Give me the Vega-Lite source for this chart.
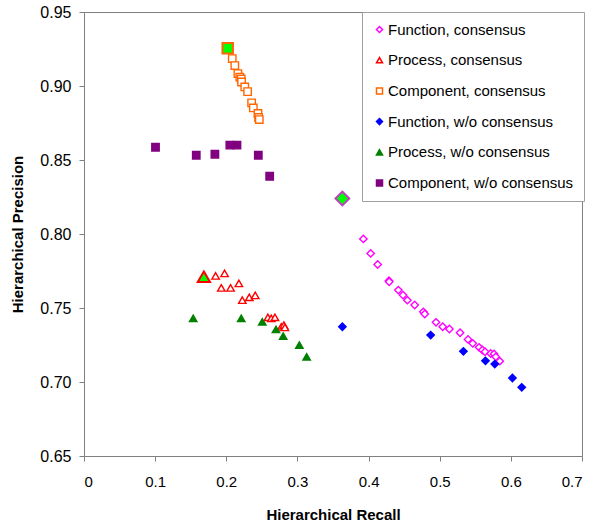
{
  "$schema": "https://vega.github.io/schema/vega-lite/v6.json",
  "width": 498,
  "height": 444,
  "autosize": {"type": "none"},
  "padding": {"left": 84, "top": 12, "right": 18, "bottom": 73},
  "background": "white",
  "config": {
    "view": {"stroke": "#808080", "strokeWidth": 1},
    "font": "Liberation Sans",
    "axis": {
      "grid": false,
      "domainColor": "#808080",
      "tickColor": "#808080",
      "tickSize": 5,
      "labelFont": "Liberation Sans",
      "labelFontSize": 15,
      "labelColor": "black",
      "titleFont": "Liberation Sans",
      "titleFontSize": 15,
      "titleFontWeight": "bold",
      "titleColor": "black"
    },
    "legend": {
      "orient": "none", "legendX": 278, "legendY": 0,
      "fillColor": "white", "strokeColor": "#A0A0A0",
      "padding": 10, "rowPadding": 14.7,
      "labelFont": "Liberation Sans", "labelFontSize": 15, "labelColor": "black",
      "labelOffset": 1, "symbolOffset": 0,
      "symbolSize": 36, "symbolStrokeWidth": 1.5, "labelLimit": 300
    }
  },
  "datasets": {
    "pts": [
      {"series": "Component, consensus", "recall": 0.2084, "precision": 0.9185},
      {"series": "Component, consensus", "recall": 0.2120, "precision": 0.9138},
      {"series": "Component, consensus", "recall": 0.2163, "precision": 0.9084},
      {"series": "Component, consensus", "recall": 0.2190, "precision": 0.9060},
      {"series": "Component, consensus", "recall": 0.2210, "precision": 0.9048},
      {"series": "Component, consensus", "recall": 0.2215, "precision": 0.9027},
      {"series": "Component, consensus", "recall": 0.2260, "precision": 0.8994},
      {"series": "Component, consensus", "recall": 0.2300, "precision": 0.8962},
      {"series": "Component, consensus", "recall": 0.2356, "precision": 0.8886},
      {"series": "Component, consensus", "recall": 0.2380, "precision": 0.8852},
      {"series": "Component, consensus", "recall": 0.2445, "precision": 0.8814},
      {"series": "Component, consensus", "recall": 0.2454, "precision": 0.8787},
      {"series": "Component, consensus", "recall": 0.2464, "precision": 0.8773},
      {"series": "Process, consensus", "recall": 0.1850, "precision": 0.7717},
      {"series": "Process, consensus", "recall": 0.1976, "precision": 0.7734},
      {"series": "Process, consensus", "recall": 0.1930, "precision": 0.7636},
      {"series": "Process, consensus", "recall": 0.2060, "precision": 0.7636},
      {"series": "Process, consensus", "recall": 0.2177, "precision": 0.7666},
      {"series": "Process, consensus", "recall": 0.2225, "precision": 0.7553},
      {"series": "Process, consensus", "recall": 0.2323, "precision": 0.7572},
      {"series": "Process, consensus", "recall": 0.2407, "precision": 0.7585},
      {"series": "Process, consensus", "recall": 0.2585, "precision": 0.7437},
      {"series": "Process, consensus", "recall": 0.2632, "precision": 0.7430},
      {"series": "Process, consensus", "recall": 0.2684, "precision": 0.7437},
      {"series": "Process, consensus", "recall": 0.2773, "precision": 0.7373},
      {"series": "Process, consensus", "recall": 0.2810, "precision": 0.7385},
      {"series": "Process, consensus", "recall": 0.2824, "precision": 0.7369},
      {"series": "Function, consensus", "recall": 0.3927, "precision": 0.7967},
      {"series": "Function, consensus", "recall": 0.4030, "precision": 0.7869},
      {"series": "Function, consensus", "recall": 0.4128, "precision": 0.7794},
      {"series": "Function, consensus", "recall": 0.4287, "precision": 0.7684},
      {"series": "Function, consensus", "recall": 0.4290, "precision": 0.7677},
      {"series": "Function, consensus", "recall": 0.4419, "precision": 0.7621},
      {"series": "Function, consensus", "recall": 0.4484, "precision": 0.7587},
      {"series": "Function, consensus", "recall": 0.4546, "precision": 0.7553},
      {"series": "Function, consensus", "recall": 0.4648, "precision": 0.7520},
      {"series": "Function, consensus", "recall": 0.4770, "precision": 0.7474},
      {"series": "Function, consensus", "recall": 0.4790, "precision": 0.7459},
      {"series": "Function, consensus", "recall": 0.4948, "precision": 0.7403},
      {"series": "Function, consensus", "recall": 0.5042, "precision": 0.7373},
      {"series": "Function, consensus", "recall": 0.5136, "precision": 0.7358},
      {"series": "Function, consensus", "recall": 0.5286, "precision": 0.7333},
      {"series": "Function, consensus", "recall": 0.5398, "precision": 0.7288},
      {"series": "Function, consensus", "recall": 0.5464, "precision": 0.7261},
      {"series": "Function, consensus", "recall": 0.5553, "precision": 0.7234},
      {"series": "Function, consensus", "recall": 0.5600, "precision": 0.7216},
      {"series": "Function, consensus", "recall": 0.5637, "precision": 0.7204},
      {"series": "Function, consensus", "recall": 0.5717, "precision": 0.7193},
      {"series": "Function, consensus", "recall": 0.5764, "precision": 0.7189},
      {"series": "Function, consensus", "recall": 0.5788, "precision": 0.7170},
      {"series": "Function, consensus", "recall": 0.5844, "precision": 0.7141},
      {"series": "Function, w/o consensus", "recall": 0.3632, "precision": 0.7373},
      {"series": "Function, w/o consensus", "recall": 0.4873, "precision": 0.7317},
      {"series": "Function, w/o consensus", "recall": 0.5333, "precision": 0.7207},
      {"series": "Function, w/o consensus", "recall": 0.5643, "precision": 0.7143},
      {"series": "Function, w/o consensus", "recall": 0.5774, "precision": 0.7121},
      {"series": "Function, w/o consensus", "recall": 0.6022, "precision": 0.7027},
      {"series": "Function, w/o consensus", "recall": 0.6153, "precision": 0.6964},
      {"series": "Process, w/o consensus", "recall": 0.1535, "precision": 0.7430},
      {"series": "Process, w/o consensus", "recall": 0.2210, "precision": 0.7430},
      {"series": "Process, w/o consensus", "recall": 0.2506, "precision": 0.7407},
      {"series": "Process, w/o consensus", "recall": 0.2698, "precision": 0.7355},
      {"series": "Process, w/o consensus", "recall": 0.2800, "precision": 0.7310},
      {"series": "Process, w/o consensus", "recall": 0.3027, "precision": 0.7250},
      {"series": "Process, w/o consensus", "recall": 0.3130, "precision": 0.7170},
      {"series": "Component, w/o consensus", "recall": 0.1005, "precision": 0.8586},
      {"series": "Component, w/o consensus", "recall": 0.1578, "precision": 0.8532},
      {"series": "Component, w/o consensus", "recall": 0.1840, "precision": 0.8539},
      {"series": "Component, w/o consensus", "recall": 0.2050, "precision": 0.8600},
      {"series": "Component, w/o consensus", "recall": 0.2150, "precision": 0.8600},
      {"series": "Component, w/o consensus", "recall": 0.2450, "precision": 0.8532},
      {"series": "Component, w/o consensus", "recall": 0.2610, "precision": 0.8390}
    ],
    "hl": [
      {"kind": "Function", "recall": 0.3632, "precision": 0.8240},
      {"kind": "Process", "recall": 0.1685, "precision": 0.7711},
      {"kind": "Component", "recall": 0.2020, "precision": 0.9255}
    ]
  },
  "layer": [
    {
      "data": {"name": "pts"},
      "mark": {"type": "point", "size": 55, "strokeWidth": 1.4, "opacity": 1},
      "encoding": {
        "x": {
          "field": "recall", "type": "quantitative",
          "scale": {"domain": [0, 0.7], "nice": false, "zero": false},
          "axis": {"values": [0, 0.1, 0.2, 0.3, 0.4, 0.5, 0.6, 0.7], "format": ".1~f", "labelPadding": 13, "title": "Hierarchical Recall", "titlePadding": 18}
        },
        "y": {
          "field": "precision", "type": "quantitative",
          "scale": {"domain": [0.65, 0.95], "nice": false, "zero": false},
          "axis": {"values": [0.65, 0.7, 0.75, 0.8, 0.85, 0.9, 0.95], "format": ".2f", "labelPadding": 8, "labelFontSize": 16, "title": "Hierarchical Precision", "titlePadding": 14}
        },
        "stroke": {
          "field": "series", "type": "nominal", "title": null,
          "scale": {
            "domain": ["Function, consensus", "Process, consensus", "Component, consensus", "Function, w/o consensus", "Process, w/o consensus", "Component, w/o consensus"],
            "range": ["#FF00FF", "#FF0000", "#FF6600", "#0000FF", "#008000", "#800080"]
          },
          "legend": {
            "encode": {
              "symbols": {
                "update": {
                  "fill": {"scale": "fill", "field": "value"},
                  "stroke": {"scale": "stroke", "field": "value"},
                  "shape": {"scale": "shape", "field": "value"},
                  "opacity": {"value": 1}
                }
              }
            }
          }
        },
        "fill": {
          "field": "series", "type": "nominal", "title": null,
          "scale": {
            "domain": ["Function, consensus", "Process, consensus", "Component, consensus", "Function, w/o consensus", "Process, w/o consensus", "Component, w/o consensus"],
            "range": ["white", "white", "white", "#0000FF", "#008000", "#800080"]
          },
          "legend": {
            "encode": {
              "symbols": {
                "update": {
                  "fill": {"scale": "fill", "field": "value"},
                  "stroke": {"scale": "stroke", "field": "value"},
                  "shape": {"scale": "shape", "field": "value"},
                  "opacity": {"value": 1}
                }
              }
            }
          }
        },
        "shape": {
          "field": "series", "type": "nominal", "title": null,
          "scale": {
            "domain": ["Function, consensus", "Process, consensus", "Component, consensus", "Function, w/o consensus", "Process, w/o consensus", "Component, w/o consensus"],
            "range": ["diamond", "triangle-up", "square", "diamond", "triangle-up", "square"]
          },
          "legend": {
            "encode": {
              "symbols": {
                "update": {
                  "fill": {"scale": "fill", "field": "value"},
                  "stroke": {"scale": "stroke", "field": "value"},
                  "shape": {"scale": "shape", "field": "value"},
                  "opacity": {"value": 1}
                }
              }
            }
          }
        }
      }
    },
    {
      "data": {"name": "hl"},
      "transform": [{"filter": "datum.kind === 'Function'"}],
      "mark": {"type": "point", "shape": "diamond", "size": 190, "strokeWidth": 2, "stroke": "#C040C0", "fill": "#00FF00", "fillOpacity": 1, "opacity": 1},
      "encoding": {
        "x": {"field": "recall", "type": "quantitative"},
        "y": {"field": "precision", "type": "quantitative"}
      }
    },
    {
      "data": {"name": "hl"},
      "transform": [{"filter": "datum.kind === 'Process'"}],
      "mark": {"type": "point", "shape": "triangle-up", "size": 150, "strokeWidth": 2, "stroke": "#FF0000", "fill": "#00FF00", "fillOpacity": 1, "opacity": 1},
      "encoding": {
        "x": {"field": "recall", "type": "quantitative"},
        "y": {"field": "precision", "type": "quantitative"}
      }
    },
    {
      "data": {"name": "hl"},
      "transform": [{"filter": "datum.kind === 'Component'"}],
      "mark": {"type": "point", "shape": "square", "size": 110, "strokeWidth": 2, "stroke": "#FF6600", "fill": "#00FF00", "fillOpacity": 1, "opacity": 1},
      "encoding": {
        "x": {"field": "recall", "type": "quantitative"},
        "y": {"field": "precision", "type": "quantitative"}
      }
    }
  ]
}
